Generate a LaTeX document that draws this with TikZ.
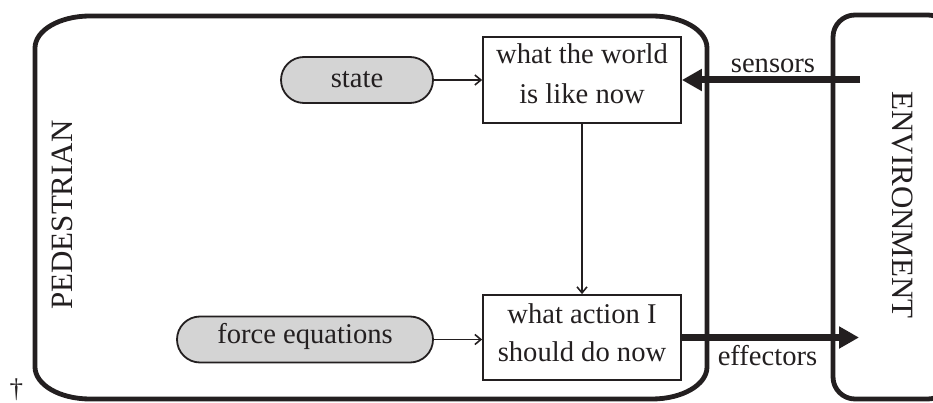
\documentclass[tikz,border=0pt]{standalone}
\usepackage{fontspec}
\setmainfont{Liberation Serif}
\usetikzlibrary{arrows.meta}
\definecolor{ink}{HTML}{231F20}
\definecolor{pillgray}{HTML}{D4D4D4}
\begin{document}
\begin{tikzpicture}[x=1pt,y=-1pt,
  every node/.style={font=\fontsize{28.6}{39}\selectfont, text=ink},
  sidetext/.style={font=\fontsize{31}{36}\selectfont, inner sep=0pt},
  line/.style={anchor=base, inner sep=0pt},
  frame/.style={draw=ink, line width=4.8pt},
  stagebox/.style={draw=ink, line width=1.8pt, minimum width=198pt,
    minimum height=86pt, inner sep=0pt},
  pill/.style={draw=ink, fill=pillgray, line width=1.8pt, rounded corners=23pt,
    minimum height=46pt, inner sep=0pt},
  flow/.style={draw=ink, line width=1.8pt,
    -{Straight Barb[length=6pt,width=10pt,line width=1.6pt]}},
  bigflow/.style={draw=ink, line width=7pt, -{Triangle[length=20pt,width=21pt]}},
]
\useasboundingbox (0,0) rectangle (933,403);
\clip (0,0) rectangle (933,403);

% agent frame with elliptical corners (rx = 55, ry = 32)
\draw[frame] (35,48) .. controls (35,30.3) and (59.6,16) .. (90,16)
  -- (652,16) .. controls (682.4,16) and (707,30.3) .. (707,48)
  -- (707,367) .. controls (707,384.7) and (682.4,399) .. (652,399)
  -- (90,399) .. controls (59.6,399) and (35,384.7) .. (35,367) -- cycle;

% environment frame, running off the right side
\draw[frame, rounded corners=22pt] (833,15) rectangle (950,399);

% side labels
\node[sidetext, rotate=90] (ped) at (62.5,215) {PEDESTRIAN};
\node[sidetext, rotate=-90] (env) at (903,205) {ENVIRONMENT};

% inner stages: boxes, then their two text lines set on fixed baselines
\node[stagebox] (world) at (582,80) {};
\node[line] (world1) at (582,64) {what the world};
\node[line] (world2) at (582,103.3) {is like now};

\node[stagebox, minimum height=85pt] (action) at (582,337.5) {};
\node[line] (action1) at (582,323.3) {what action I};
\node[line] (action2) at (582,361.7) {should do now};

% inputs
\node[pill, minimum width=152pt] (state) at (357,80) {state};
\node[pill, minimum width=256pt, text height=19.5pt, text depth=11.9pt]
  (force) at (305,339.5) {force equations};

\draw[flow] (state) -- (world);
\draw[flow] (force.east) -- (force.east -| action.west);
\draw[flow] (world) -- (action);

% sensing and acting
\coordinate (sensein) at (860,80);
\coordinate (actout) at (859,337.5);
\draw[bigflow] (sensein) -- (world.east);
\draw[bigflow] (action.east |- actout) -- (actout);

\node[line] (sens) at (773,72.5) {sensors};
\node[line] (eff) at (767.5,365) {effectors};

\node[font=\fontsize{27}{30}\selectfont, inner sep=0pt] (mark) at (16.3,389.5) {†};
\end{tikzpicture}
\end{document}
